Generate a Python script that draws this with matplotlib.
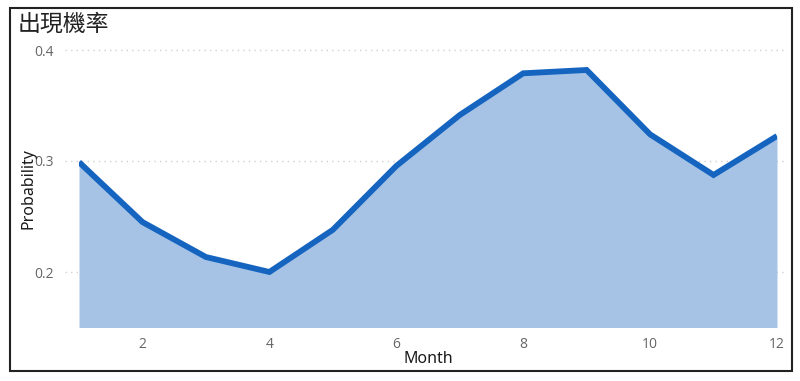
import matplotlib
matplotlib.use("Agg")
import matplotlib.pyplot as plt
import matplotlib.transforms as mtransforms
from matplotlib.patches import Rectangle

months = [1, 2, 3, 4, 5, 6, 7, 8, 9, 10, 11, 12]
probability = [0.299, 0.245, 0.2135, 0.200, 0.238, 0.2955, 0.3414, 0.379, 0.382, 0.324, 0.2874, 0.3225]
x_ticks = [2, 4, 6, 8, 10, 12]
y_ticks = [0.2, 0.3, 0.4]
y_tick_labels = ["0.2", "0.3", "0.4"]
title = "出現機率"
x_label = "Month"
y_label = "Probability"

W, H = 800, 381
fig = plt.figure(figsize=(W / 100, H / 100), dpi=100)
fig.patch.set_facecolor("white")

y0 = 0.15
y1 = 0.41
px_per_unit = 1110.0
bottom_px = 272 + (0.2 - y0) * px_per_unit
top_px = 50 - (y1 - 0.4) * px_per_unit
left_px, right_px = 79, 777
ax = fig.add_axes([left_px / W, 1 - bottom_px / H, (right_px - left_px) / W, (bottom_px - top_px) / H])
ax.set_xlim(1, 12)
ax.set_ylim(y0, y1)

ax.fill_between(months, probability, y0, color="#A6C3E6", linewidth=0, zorder=1)
ax.plot(months, probability, color="#1565C0", linewidth=4.2, solid_joinstyle="miter", solid_capstyle="butt", zorder=3)

trans = mtransforms.blended_transform_factory(fig.transFigure, ax.transData)
for yv in y_ticks:
    ax.plot([65 / W, 787 / W], [yv, yv], transform=trans, clip_on=False,
            color="#D0D0D0", linestyle=(0, (1, 3)), linewidth=1.0, zorder=0)

for s in ax.spines.values():
    s.set_visible(False)
ax.set_facecolor("none")
ax.set_xticks(x_ticks)
ax.set_xticklabels([str(v) for v in x_ticks])
ax.set_yticks(y_ticks)
ax.set_yticklabels(y_tick_labels)
ax.tick_params(axis="both", length=0, colors="#666666", labelsize=10)
ax.tick_params(axis="y", pad=18)
ax.tick_params(axis="x", pad=7)
for lab in ax.get_xticklabels() + ax.get_yticklabels():
    lab.set_fontfamily("Open Sans")

fig.text(428 / W, 1 - 359 / H, x_label, fontsize=11.5, color="#1a1a1a", family="Noto Sans",
         weight="medium", ha="center", va="center")
fig.text(28 / W, 1 - 189 / H, y_label, fontsize=11.5, color="#1a1a1a", family="Noto Sans",
         weight="medium", ha="center", va="center", rotation=90)

fig.text(18 / W, 1 - 24 / H, title, fontsize=16.5, color="#222222", va="center", ha="left",
         family=["Noto Sans CJK TC", "DejaVu Sans"])

fig.patches.append(Rectangle((10 / W, 1 - 371 / H), (792 - 10) / W, (371 - 8) / H,
                             transform=fig.transFigure, fill=False, edgecolor="#222222",
                             linewidth=1.5))

fig.savefig("out.png", dpi=100)
